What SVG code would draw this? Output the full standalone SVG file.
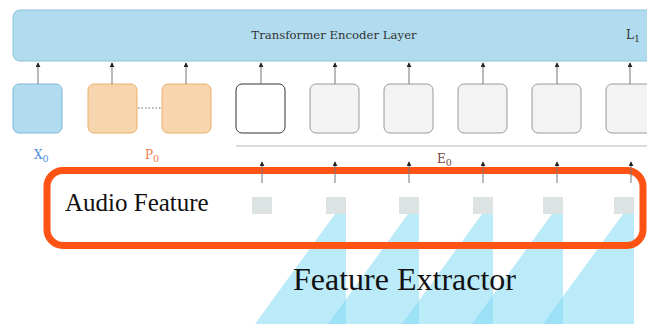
<svg xmlns="http://www.w3.org/2000/svg" width="647" height="324" viewBox="0 0 647 324">
  <style>
    .lbl { font-family: "DejaVu Serif", "Liberation Serif", serif; }
    .big { font-family: "Liberation Serif", "Times New Roman", serif; fill: #111; }
    .tok { stroke-width: 1; }
    .gray { fill: #f3f3f3; stroke: #9a9a9a; }
    .feat { fill: #dde2e2; }
    .cone { fill: #84d8f4; fill-opacity: 0.55; }
  </style>
  <defs>
    <marker id="up" viewBox="0 0 6 6" refX="3" refY="1" markerWidth="5" markerHeight="5" markerUnits="userSpaceOnUse">
      <path d="M0,6 L3,0 L6,6 Z" fill="#222"/>
    </marker>
  </defs>

  <!-- feature extractor cones, drawn first so the frame and text sit on top -->
  <g id="feature-extractor">
    <polygon class="cone" points="335,214 346,214 346,324 255,324"/>
    <polygon class="cone" points="408,214 419,214 419,324 328,324"/>
    <polygon class="cone" points="482,214 493,214 493,324 402,324"/>
    <polygon class="cone" points="552,214 563,214 563,324 472,324"/>
    <polygon class="cone" points="623,214 634,214 634,324 543,324"/>
    <text class="big" x="293" y="290" font-size="32">Feature Extractor</text>
  </g>

  <!-- transformer encoder layer -->
  <g id="encoder">
    <rect x="13" y="10" width="650" height="51" rx="7" fill="#b1dcef" stroke="#8ec2da" stroke-width="1"/>
    <text class="lbl" x="334" y="39" font-size="11.7" fill="#333" text-anchor="middle">Transformer Encoder Layer</text>
    <text class="lbl" x="626" y="39" font-size="12" fill="#333">L<tspan font-size="9.5" dy="3">1</tspan></text>
  </g>

  <!-- input tokens -->
  <g id="cls-token">
    <rect class="tok" x="13" y="84" width="49" height="49" rx="6" fill="#b1dcef" stroke="#7fb7d6"/>
    <text class="lbl" x="34" y="159" font-size="12" fill="#4a90e2">X<tspan font-size="9.5" dy="3">0</tspan></text>
  </g>
  <g id="prompt-tokens">
    <rect class="tok" x="88" y="84" width="49" height="49" rx="6" fill="#f8d6ad" stroke="#e8b070"/>
    <rect class="tok" x="162" y="84" width="49" height="49" rx="6" fill="#f8d6ad" stroke="#e8b070"/>
    <line x1="138" y1="108" x2="161" y2="108" stroke="#666" stroke-width="1" stroke-dasharray="1.5 2"/>
    <text class="lbl" x="145" y="159" font-size="12" fill="#f47a45">P<tspan font-size="9.5" dy="3">0</tspan></text>
  </g>
  <g id="embed-tokens">
    <rect class="tok" x="236" y="84" width="49" height="49" rx="6" fill="#ffffff" stroke="#333"/>
    <rect class="tok gray" x="310" y="84" width="49" height="49" rx="6"/>
    <rect class="tok gray" x="384" y="84" width="49" height="49" rx="6"/>
    <rect class="tok gray" x="458" y="84" width="49" height="49" rx="6"/>
    <rect class="tok gray" x="532" y="84" width="49" height="49" rx="6"/>
    <rect class="tok gray" x="606" y="84" width="49" height="49" rx="6"/>
    <line x1="236" y1="146" x2="647" y2="146" stroke="#cfcfcf" stroke-width="1.5"/>
    <text class="lbl" x="437" y="163" font-size="12" fill="#7a4545">E<tspan font-size="9.5" dy="3">0</tspan></text>
  </g>

  <!-- audio feature frames -->
  <g id="audio-feature">
    <rect class="feat" x="252" y="197" width="20" height="17"/>
    <rect class="feat" x="326" y="197" width="20" height="17"/>
    <rect class="feat" x="399" y="197" width="20" height="17"/>
    <rect class="feat" x="473" y="197" width="20" height="17"/>
    <rect class="feat" x="543" y="197" width="20" height="17"/>
    <rect class="feat" x="614" y="197" width="20" height="17"/>
    <text class="big" x="65" y="211" font-size="25">Audio Feature</text>
    <rect x="47" y="170.5" width="596" height="75" rx="16" fill="none" stroke="#ff5314" stroke-width="7"/>
  </g>

  <!-- connectors -->
  <g id="connectors" stroke="#777" stroke-width="1">
    <line x1="38" y1="84" x2="38" y2="63" marker-end="url(#up)"/>
    <line x1="112" y1="84" x2="112" y2="63" marker-end="url(#up)"/>
    <line x1="186" y1="84" x2="186" y2="63" marker-end="url(#up)"/>
    <line x1="261" y1="84" x2="261" y2="63" marker-end="url(#up)"/>
    <line x1="335" y1="84" x2="335" y2="63" marker-end="url(#up)"/>
    <line x1="409" y1="84" x2="409" y2="63" marker-end="url(#up)"/>
    <line x1="483" y1="84" x2="483" y2="63" marker-end="url(#up)"/>
    <line x1="557" y1="84" x2="557" y2="63" marker-end="url(#up)"/>
    <line x1="630" y1="84" x2="630" y2="63" marker-end="url(#up)"/>
    <line x1="262" y1="183" x2="262" y2="162" marker-end="url(#up)"/>
    <line x1="335" y1="183" x2="335" y2="162" marker-end="url(#up)"/>
    <line x1="409" y1="183" x2="409" y2="162" marker-end="url(#up)"/>
    <line x1="483" y1="183" x2="483" y2="162" marker-end="url(#up)"/>
    <line x1="557" y1="183" x2="557" y2="162" marker-end="url(#up)"/>
    <line x1="631" y1="183" x2="631" y2="162" marker-end="url(#up)"/>
  </g>
</svg>
